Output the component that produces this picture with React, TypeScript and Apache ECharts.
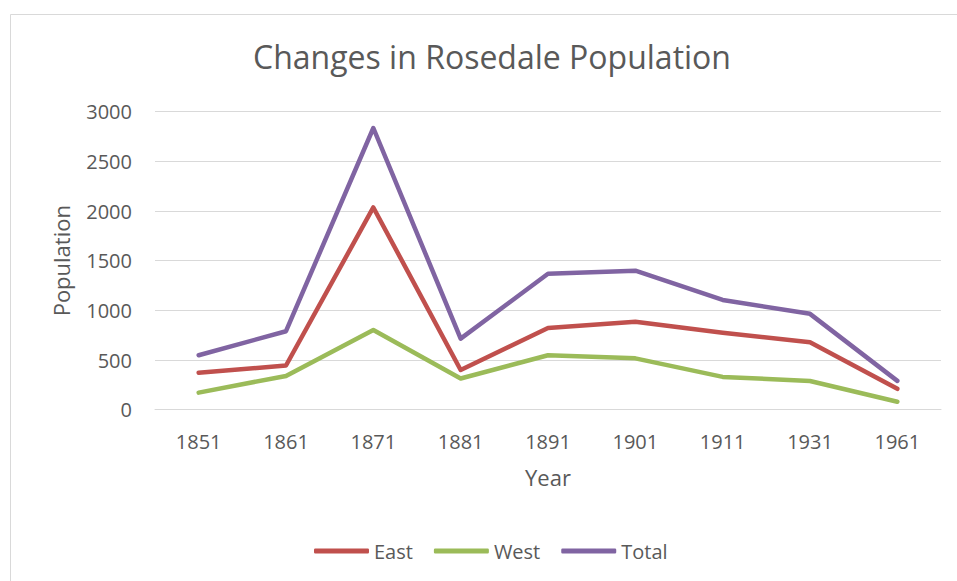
import React, { useEffect, useRef } from "react";
import * as echarts from "echarts";

const years = ["1851", "1861", "1871", "1881", "1891", "1901", "1911", "1931", "1961"];
const east = [372, 445, 2036, 400, 822, 885, 775, 678, 210];
const west = [172, 340, 802, 314, 548, 517, 330, 289, 80];
const total = [548, 790, 2836, 716, 1368, 1400, 1105, 965, 290];
const seriesNames = ["East", "West", "Total"];
const seriesColors = ["#C0504D", "#9BBB59", "#8064A2"];

const FONT = "'Open Sans', 'Noto Sans', sans-serif";
const TEXT = "#595959";

export default function App() {
  const ref = useRef<HTMLDivElement>(null);
  useEffect(() => {
    if (!ref.current) return;
    const chart = echarts.init(ref.current, undefined, { renderer: "svg" });
    const data = [east, west, total];
    chart.setOption({
      animation: false,
      backgroundColor: "#ffffff",
      title: {
        text: "Changes in Rosedale Population",
        left: 487,
        top: 35,
        textAlign: "center",
        textStyle: { fontFamily: FONT, fontSize: 32, fontWeight: "normal", color: TEXT },
      },
      graphic: [
        {
          type: "rect",
          shape: { x: 10.5, y: 14.5, width: 1000, height: 1000 },
          style: { fill: "none", stroke: "#D9D9D9", lineWidth: 1 },
          silent: true,
        },
      ],
      legend: {
        left: 309,
        top: 534,
        icon: "roundRect",
        itemWidth: 55,
        itemHeight: 5,
        itemGap: 21,
        data: seriesNames,
        textStyle: { fontFamily: FONT, fontSize: 20, color: TEXT, lineHeight: 24 },
      },
      grid: { left: 155, right: 16, top: 111.7, bottom: 171.3, containLabel: false },
      xAxis: {
        type: "category",
        data: years,
        boundaryGap: true,
        name: "Year",
        nameLocation: "middle",
        nameGap: 56,
        nameTextStyle: { fontFamily: FONT, fontSize: 22, color: TEXT },
        axisLine: { show: true, lineStyle: { color: "#D9D9D9", width: 1 } },
        axisTick: { show: false },
        axisLabel: { margin: 20, fontFamily: FONT, fontSize: 20, color: TEXT, lineHeight: 24 },
      },
      yAxis: {
        type: "value",
        min: 0,
        max: 3000,
        interval: 500,
        name: "Population",
        nameLocation: "middle",
        nameGap: 83,
        nameTextStyle: { fontFamily: FONT, fontSize: 22, color: TEXT },
        axisLine: { show: false },
        axisTick: { show: false },
        axisLabel: {
          margin: 23,
          fontFamily: FONT,
          fontSize: 20,
          color: TEXT,
          formatter: (v: number) => String(v),
        },
        splitLine: { lineStyle: { color: "#D9D9D9", width: 1 } },
      },
      series: seriesNames.map((name, i) => ({
        name,
        type: "line",
        data: data[i],
        symbol: "none",
        color: seriesColors[i],
        lineStyle: { width: 4.5, cap: "round", join: "round", color: seriesColors[i] },
      })),
    });
    return () => chart.dispose();
  }, []);
  return (
    <div
      ref={ref}
      style={{ position: "fixed", left: 0, top: 0, width: 957, height: 581 }}
    />
  );
}
